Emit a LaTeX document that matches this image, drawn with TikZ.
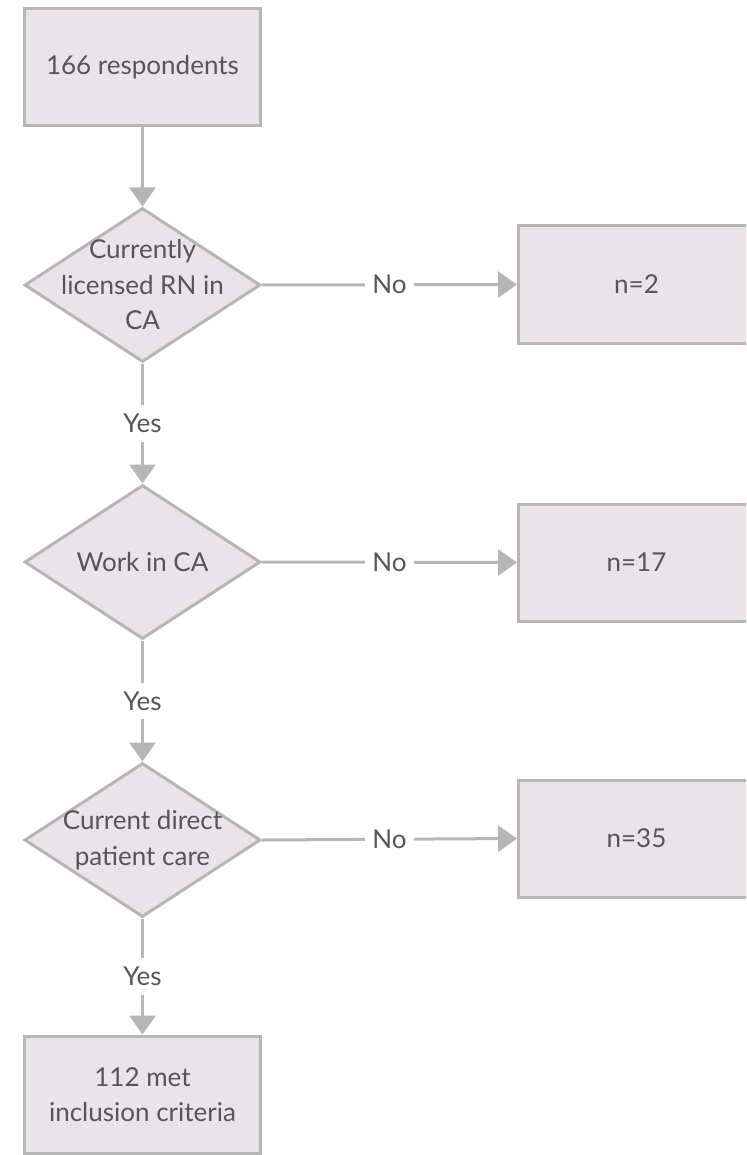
\documentclass[tikz,border=0pt]{standalone}
\usepackage{fontspec}
\setmainfont{Lato}
\usetikzlibrary{shapes.geometric,arrows.meta}
\definecolor{boxfill}{RGB}{232,228,232}
\definecolor{edge}{RGB}{182,182,182}
\definecolor{txt}{RGB}{88,85,90}
\begin{document}
\begin{tikzpicture}[x=1pt,y=-1pt,
  txtfont/.style={font=\fontsize{26}{35.5}\selectfont},
  base/.style={draw=edge, line width=3pt, fill=boxfill, text=txt, txtfont, inner sep=0pt},
  stepbox/.style={base, rectangle, minimum width=236pt, minimum height=117pt, align=center},
  decision/.style={base, diamond, minimum width=236pt, minimum height=154pt},
  dtext/.style={text=txt, txtfont, align=center, inner sep=0pt},
  conn/.style={draw=edge, line width=3pt, -{Triangle[width=26pt,length=19pt]}},
  lab/.style={fill=white, text=txt, txtfont, inner xsep=7pt, inner ysep=9pt}
]
\useasboundingbox (0,0) rectangle (746,1155);
\clip (0,0) rectangle (746,1155);
\fill[white] (0,0) rectangle (746,1155);

\node[stepbox] (start) at (142.5,67) {166 respondents};
\node[decision, label={[dtext]center:Currently\\licensed RN in\\CA}] (d1) at (142.5,285) {};
\node[stepbox] (n2) at (636.5,284.5) {n=2};
\node[decision, label={[dtext]center:Work in CA}] (d2) at (142.5,562) {};
\node[stepbox] (n17) at (636.5,562.5) {n=17};
\node[decision, label={[dtext]center:Current direct\\patient care}] (d3) at (142.5,840) {};
\node[stepbox] (n35) at (636.5,838.5) {n=35};
\node[stepbox] (final) at (142.5,1094.5) {112 met\\inclusion criteria};

\draw[conn] (start.south) -- (d1.north);
\draw[conn] (d1.east) -- node[lab] {No} (n2.west);
\draw[conn] (d1.south) -- node[lab] {Yes} (d2.north);
\draw[conn] (d2.east) -- node[lab] {No} (n17.west);
\draw[conn] (d2.south) -- node[lab] {Yes} (d3.north);
\draw[conn] (d3.east) -- node[lab] {No} (n35.west);
\draw[conn] (d3.south) -- node[lab] {Yes} (final.north);
\end{tikzpicture}
\end{document}
